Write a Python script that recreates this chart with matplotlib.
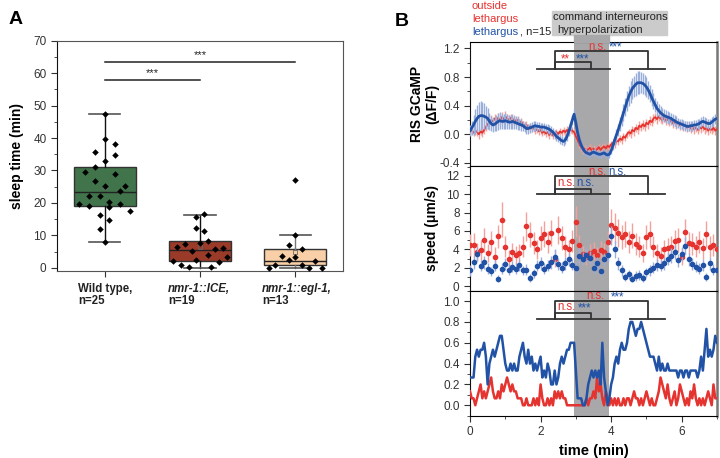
import numpy as np
import matplotlib
matplotlib.use("Agg")
import matplotlib.pyplot as plt
from matplotlib.patches import Rectangle
from matplotlib.ticker import MultipleLocator

# ---------------- Panel A data ----------------
groups = ["Wild type", "nmr-1::ICE", "nmr-1::egl-1"]
group_n = ["n=25", "n=19", "n=13"]
box_q1 = [19.0, 2.0, 1.0]
box_med = [23.5, 5.6, 2.2]
box_q3 = [31.0, 8.3, 5.7]
box_lo = [8.0, 0.0, 0.0]
box_hi = [47.5, 16.3, 10.0]
box_mean = [25.0, 6.3, 4.75]
box_colors = ["#41744a", "#9a3a29", "#f8cfa6"]

wt_vals = [47.5, 39.7, 38.1, 35.6, 34.7, 32.9, 31.1, 29.6, 29.0, 26.9, 25.2, 25.1, 23.6,
           22.0, 22.1, 20.4, 19.7, 19.0, 18.6, 19.7, 17.6, 16.2, 14.7, 12.0, 7.9]
wt_off = [0.0, 0.0, 0.11, -0.1, 0.11, 0.0, -0.1, -0.21, 0.11, -0.1, 0.0, 0.21, 0.16,
          -0.16, -0.05, 0.05, -0.27, -0.16, 0.05, 0.16, 0.27, -0.05, 0.05, -0.05, 0.0]
ice_vals = [16.5, 15.7, 12.3, 11.3, 8.3, 7.7, 7.2, 6.5, 6.1, 5.9, 5.3, 4.0, 3.2, 2.5,
            2.1, 1.7, 1.0, 0.1, 0.1]
ice_off = [0.04, -0.04, -0.04, 0.04, 0.08, 0.0, -0.16, -0.24, 0.24, 0.16, -0.08, 0.08,
           0.28, -0.04, -0.28, 0.2, -0.2, -0.12, 0.12]
egl_vals = [27.1, 10.0, 7.1, 5.8, 3.6, 3.4, 2.3, 2.1, 0.9, 1.0, 0.0, 0.0, 0.0]
egl_off = [0.0, 0.0, -0.07, 0.07, -0.14, 0.0, -0.07, 0.21, -0.21, 0.07, -0.28, 0.14, 0.28]

# ---------------- Panel B data ----------------
# RIS GCaMP (dF/F), sampled every 0.05 min from 0 to 7 min
gcamp_blue = [
    0.05, 0.09, 0.13, 0.18, 0.22, 0.25, 0.26, 0.26, 0.25, 0.24,
    0.22, 0.18, 0.15, 0.13, 0.14, 0.16, 0.18, 0.19, 0.18, 0.18,
    0.19, 0.18, 0.17, 0.17, 0.18, 0.17, 0.16, 0.15, 0.14, 0.13,
    0.12, 0.10, 0.08, 0.08, 0.09, 0.10, 0.11, 0.12, 0.11, 0.11,
    0.10, 0.10, 0.10, 0.09, 0.08, 0.07, 0.05, 0.03, 0.00, -0.03,
    -0.05, -0.07, -0.09, -0.10, -0.08, -0.03, 0.04, 0.12, 0.20, 0.28,
    0.16, 0.02, -0.08, -0.15, -0.20, -0.24, -0.26, -0.27, -0.28, -0.26,
    -0.25, -0.26, -0.27, -0.28, -0.28, -0.27, -0.26, -0.28, -0.29, -0.28,
    -0.23, -0.16, -0.08, -0.01, 0.06, 0.14, 0.22, 0.30, 0.38, 0.46,
    0.53, 0.59, 0.64, 0.67, 0.70, 0.72, 0.72, 0.72, 0.71, 0.69,
    0.66, 0.62, 0.57, 0.51, 0.46, 0.41, 0.36, 0.33, 0.30, 0.28,
    0.26, 0.25, 0.24, 0.23, 0.22, 0.20, 0.19, 0.17, 0.16, 0.15,
    0.14, 0.13, 0.12, 0.11, 0.11, 0.12, 0.12, 0.13, 0.13, 0.14,
    0.15, 0.17, 0.18, 0.17, 0.16, 0.15, 0.15, 0.17, 0.19, 0.21,
    0.22]
gcamp_blue_err = [
    0.08, 0.10, 0.14, 0.17, 0.19, 0.20, 0.20, 0.19, 0.18, 0.16,
    0.14, 0.12, 0.11, 0.10, 0.10, 0.11, 0.12, 0.12, 0.11, 0.11,
    0.11, 0.10, 0.10, 0.10, 0.10, 0.09, 0.09, 0.09, 0.08, 0.08,
    0.07, 0.07, 0.07, 0.07, 0.07, 0.07, 0.07, 0.07, 0.06, 0.06,
    0.06, 0.06, 0.06, 0.06, 0.06, 0.06, 0.06, 0.06, 0.06, 0.06,
    0.06, 0.06, 0.06, 0.06, 0.06, 0.06, 0.06, 0.06, 0.07, 0.07,
    0.06, 0.06, 0.05, 0.05, 0.05, 0.05, 0.05, 0.05, 0.05, 0.05,
    0.05, 0.05, 0.05, 0.05, 0.05, 0.05, 0.05, 0.05, 0.05, 0.05,
    0.05, 0.06, 0.07, 0.08, 0.09, 0.10, 0.11, 0.12, 0.13, 0.14,
    0.14, 0.15, 0.15, 0.15, 0.16, 0.16, 0.16, 0.15, 0.15, 0.14,
    0.14, 0.13, 0.12, 0.12, 0.11, 0.10, 0.10, 0.09, 0.09, 0.09,
    0.09, 0.09, 0.08, 0.08, 0.08, 0.08, 0.08, 0.08, 0.07, 0.07,
    0.07, 0.07, 0.07, 0.07, 0.07, 0.07, 0.07, 0.07, 0.07, 0.07,
    0.07, 0.07, 0.07, 0.07, 0.07, 0.07, 0.07, 0.07, 0.07, 0.07,
    0.07]
gcamp_red = [
    0.04, 0.06, 0.02, 0.05, 0.03, 0.00, 0.04, 0.02, 0.06, 0.10,
    0.14, 0.17, 0.20, 0.18, 0.22, 0.20, 0.23, 0.19, 0.24, 0.21,
    0.25, 0.22, 0.20, 0.23, 0.19, 0.21, 0.18, 0.20, 0.16, 0.18,
    0.14, 0.12, 0.13, 0.10, 0.11, 0.08, 0.09, 0.05, 0.07, 0.04,
    0.06, 0.02, 0.04, 0.01, 0.03, -0.01, 0.02, -0.02, 0.01, 0.03,
    0.00, 0.04, 0.02, 0.05, 0.03, 0.06, 0.04, 0.07, 0.05, 0.03,
    -0.03, -0.08, -0.14, -0.18, -0.22, -0.20, -0.24, -0.21, -0.19, -0.23,
    -0.20, -0.24, -0.21, -0.18, -0.22, -0.19, -0.17, -0.20, -0.16, -0.18,
    -0.14, -0.12, -0.14, -0.09, -0.10, -0.06, -0.08, -0.03, -0.05, 0.00,
    0.03, 0.01, 0.06, 0.04, 0.09, 0.07, 0.12, 0.10, 0.14, 0.11,
    0.16, 0.14, 0.19, 0.17, 0.22, 0.24, 0.21, 0.25, 0.22, 0.20,
    0.23, 0.19, 0.21, 0.17, 0.19, 0.15, 0.17, 0.14, 0.16, 0.12,
    0.14, 0.11, 0.13, 0.09, 0.11, 0.08, 0.10, 0.07, 0.09, 0.06,
    0.10, 0.08, 0.11, 0.07, 0.09, 0.05, 0.08, 0.06, 0.09, 0.05,
    0.07]
gcamp_red_err = [
    0.05, 0.06, 0.05, 0.06, 0.05, 0.06, 0.05, 0.06, 0.06, 0.06,
    0.07, 0.06, 0.07, 0.06, 0.07, 0.06, 0.07, 0.06, 0.07, 0.06,
    0.07, 0.06, 0.07, 0.06, 0.06, 0.06, 0.06, 0.06, 0.06, 0.05,
    0.05, 0.05, 0.05, 0.05, 0.05, 0.05, 0.05, 0.05, 0.05, 0.05,
    0.05, 0.05, 0.05, 0.05, 0.05, 0.05, 0.05, 0.05, 0.05, 0.05,
    0.05, 0.05, 0.05, 0.05, 0.05, 0.05, 0.05, 0.05, 0.05, 0.05,
    0.05, 0.05, 0.05, 0.05, 0.05, 0.05, 0.05, 0.05, 0.05, 0.05,
    0.05, 0.05, 0.05, 0.05, 0.05, 0.05, 0.05, 0.05, 0.05, 0.05,
    0.05, 0.05, 0.05, 0.05, 0.05, 0.05, 0.05, 0.05, 0.05, 0.05,
    0.05, 0.06, 0.06, 0.06, 0.06, 0.06, 0.06, 0.06, 0.06, 0.06,
    0.06, 0.06, 0.06, 0.06, 0.06, 0.06, 0.06, 0.06, 0.06, 0.06,
    0.06, 0.06, 0.06, 0.06, 0.06, 0.06, 0.06, 0.06, 0.06, 0.06,
    0.06, 0.06, 0.06, 0.06, 0.06, 0.06, 0.06, 0.06, 0.06, 0.06,
    0.06, 0.06, 0.06, 0.06, 0.06, 0.06, 0.06, 0.06, 0.06, 0.06,
    0.06]

# speed (um/s), sampled every 0.1 min from 0 to 7 min
speed_red = [
    4.5, 4.5, 3.7, 3.9, 5.0, 3.6, 4.8, 3.2, 5.4, 7.2,
    4.3, 3.0, 3.7, 3.4, 3.6, 4.3, 6.5, 5.6, 4.7, 4.0,
    5.2, 5.7, 4.8, 5.8, 3.0, 6.1, 5.2, 4.3, 4.0, 4.9,
    7.0, 4.5, 3.5, 3.2, 3.6, 3.8, 3.4, 3.9, 3.7, 4.8,
    6.6, 6.3, 5.8, 5.3, 5.7, 4.8, 5.5, 4.6, 4.3, 3.6,
    5.3, 5.7, 4.3, 3.6, 3.3, 4.0, 4.1, 4.3, 4.9, 5.0,
    3.2, 5.9, 4.7, 4.6, 4.3, 4.8, 4.1, 5.7, 4.3, 4.5,
    4.0]
speed_red_err = [
    1.2, 1.3, 1.0, 1.1, 1.3, 1.0, 1.2, 1.0, 1.3, 1.9,
    1.1, 0.9, 1.0, 1.0, 1.0, 1.1, 1.6, 1.4, 1.2, 1.0,
    1.3, 1.4, 1.2, 1.4, 0.9, 1.5, 1.3, 1.1, 1.0, 1.2,
    1.7, 1.1, 0.9, 0.9, 1.0, 1.0, 0.9, 1.0, 1.0, 1.2,
    1.8, 1.6, 1.5, 1.3, 1.4, 1.2, 1.4, 1.2, 1.1, 1.0,
    1.3, 1.4, 1.1, 1.0, 0.9, 1.0, 1.1, 1.1, 1.2, 1.3,
    0.9, 1.4, 1.2, 1.2, 1.1, 1.2, 1.1, 1.4, 1.1, 1.2,
    1.0]
speed_blue = [
    1.7, 2.6, 3.5, 2.2, 2.6, 1.9, 1.6, 2.2, 0.8, 1.9,
    2.4, 1.8, 2.1, 1.9, 2.3, 1.7, 1.8, 0.9, 1.4, 2.2,
    2.5, 1.9, 2.2, 2.6, 3.2, 2.4, 2.0, 2.5, 2.9, 2.3,
    2.0, 3.3, 3.0, 3.4, 3.1, 2.0, 2.5, 1.6, 2.9, 3.4,
    5.5, 4.0, 2.5, 1.7, 1.0, 1.3, 0.8, 1.1, 1.2, 0.9,
    1.5, 1.7, 2.0, 2.3, 2.2, 2.5, 3.0, 3.3, 3.7, 2.8,
    3.5, 4.4, 2.9, 2.4, 2.1, 1.9, 2.3, 1.0, 2.5, 1.8,
    1.7]
speed_blue_err = [
    0.6, 0.7, 0.8, 0.6, 0.7, 0.6, 0.5, 0.6, 0.4, 0.6,
    0.7, 0.6, 0.6, 0.6, 0.7, 0.5, 0.6, 0.4, 0.5, 0.6,
    0.7, 0.6, 0.6, 0.7, 0.8, 0.7, 0.6, 0.7, 0.7, 0.6,
    0.6, 0.8, 0.7, 0.8, 0.7, 0.6, 0.7, 0.5, 0.7, 0.8,
    1.0, 0.9, 0.7, 0.6, 0.4, 0.5, 0.4, 0.5, 0.5, 0.4,
    0.5, 0.6, 0.6, 0.7, 0.6, 0.7, 0.7, 0.8, 0.8, 0.7,
    0.8, 0.9, 0.7, 0.7, 0.6, 0.6, 0.7, 0.4, 0.7, 0.6,
    0.6]

# sleep fraction: sleeping animals (out of n=15), every 0.05 min
sleep_n = 15
sleep_blue_count = [
    4, 4, 4, 7, 8, 7, 8, 8, 9, 7,
    3, 6, 7, 8, 7, 8, 9, 10, 10, 8,
    6, 5, 5, 6, 5, 6, 5, 5, 7, 8,
    9, 7, 6, 8, 6, 7, 5, 6, 5, 6,
    7, 4, 5, 4, 6, 5, 3, 3, 5, 3,
    4, 6, 7, 6, 7, 8, 8, 9, 9, 9,
    5, 1, 1, 1, 0, 0, 1, 3, 4, 5,
    4, 5, 4, 5, 3, 9, 4, 2, 0, 1,
    3, 4, 6, 7, 6, 8, 9, 8, 8, 9,
    11, 12, 12, 11, 10, 11, 11, 12, 11, 10,
    9, 8, 7, 7, 7, 6, 5, 7, 5, 6,
    5, 5, 6, 5, 5, 5, 5, 5, 4, 5,
    5, 4, 5, 5, 4, 5, 5, 5, 5, 4,
    5, 7, 5, 8, 11, 7, 8, 7, 8, 10,
    9]
sleep_red_count = [
    2, 1, 1, 0, 1, 2, 3, 1, 2, 1,
    2, 3, 4, 2, 1, 1, 2, 1, 3, 2,
    3, 4, 3, 2, 3, 2, 2, 1, 1, 1,
    0, 0, 1, 0, 0, 0, 1, 0, 1, 0,
    3, 1, 0, 0, 1, 0, 1, 0, 2, 1,
    2, 1, 2, 1, 1, 0, 0, 0, 0, 0,
    0, 0, 0, 0, 0, 0, 1, 0, 1, 1,
    2, 1, 4, 2, 3, 1, 0, 2, 1, 0,
    1, 0, 1, 0, 1, 0, 0, 1, 0, 1,
    1, 0, 1, 2, 1, 1, 0, 1, 0, 1,
    2, 1, 0, 1, 0, 0, 1, 2, 4, 3,
    2, 1, 3, 1, 0, 1, 2, 0, 1, 3,
    2, 1, 0, 1, 0, 2, 1, 3, 1, 0,
    1, 0, 1, 0, 1, 2, 1, 0, 3, 1,
    1]

stim_window = [2.95, 3.95]

RED = "#e53330"
RED_L = "#f3a19a"
BLUE = "#2152a6"
BLUE_L = "#9aaedc"
DARK = "#333333"

plt.rcParams['font.family'] = ['Liberation Sans', 'DejaVu Sans']

fig = plt.figure(figsize=(7.2, 4.58), dpi=100)

# ---------------- Panel A ----------------
axA = fig.add_axes([0.0792, 0.4083, 0.3972, 0.5028])
stats = []
for i in range(3):
    stats.append(dict(med=box_med[i], q1=box_q1[i], q3=box_q3[i], whislo=box_lo[i],
                      whishi=box_hi[i], mean=box_mean[i], fliers=[]))
pos = [1, 2, 3]
bp = axA.bxp(stats, positions=pos, widths=0.65, patch_artist=True, showmeans=True,
             showfliers=False,
             meanprops=dict(marker='s', markersize=3, markerfacecolor='none',
                            markeredgecolor='#666666', markeredgewidth=0.6),
             medianprops=dict(color='#222222', lw=1.0),
             whiskerprops=dict(color='#111111', lw=1.0),
             capprops=dict(color='#555555', lw=1.2),
             boxprops=dict(lw=1.0))
for i, patch in enumerate(bp['boxes']):
    patch.set_facecolor(box_colors[i])
    patch.set_edgecolor('#333333')
for cap in bp['caps']:
    xs = cap.get_xdata()
    c = np.mean(xs)
    cap.set_xdata([c - 0.165, c + 0.165])
bp['whiskers'][4].set_color('#777777')
bp['whiskers'][5].set_color('#777777')

for p, vals, offs in [(1, wt_vals, wt_off), (2, ice_vals, ice_off), (3, egl_vals, egl_off)]:
    axA.scatter(np.array(offs) + p, vals, s=11, color='black', zorder=5, marker='D',
                linewidths=0)

axA.set_xlim(0.5, 3.5)
axA.set_ylim(-1, 70)
axA.yaxis.set_major_locator(MultipleLocator(10))
axA.yaxis.set_minor_locator(MultipleLocator(5))
axA.set_xticks(pos)
axA.set_xticklabels(["", "", ""])
axA.tick_params(axis='both', which='major', direction='out', length=4, labelsize=8.5,
                colors='#333333')
axA.tick_params(axis='y', which='minor', direction='out', length=2.5, color='#333333')
for s in ['top', 'right', 'bottom']:
    axA.spines[s].set_color('#555555')
axA.spines['left'].set_color('#111111')
axA.set_ylabel("sleep time (min)", fontsize=10, fontweight='bold', labelpad=7)

# significance bars
axA.plot([1, 2], [58, 58], color='#222222', lw=1.1)
axA.text(1.5, 58.6, "***", ha='center', va='bottom', fontsize=8, color='#222222')
axA.plot([1, 3], [63.5, 63.5], color='#222222', lw=1.1)
axA.text(2.0, 64.1, "***", ha='center', va='bottom', fontsize=8, color='#222222')

label_x = [78, 168, 262]
for i in range(3):
    fx = label_x[i] / 720
    if i == 0:
        fig.text(fx, 1 - 289 / 458, groups[i] + ",", fontsize=8.3, fontweight='bold',
                 ha='left', va='center', color='#222222')
    else:
        fig.text(fx, 1 - 289 / 458, groups[i] + ",", fontsize=8.3, fontweight='bold',
                 style='italic', ha='left', va='center', color='#222222')
    fig.text(fx, 1 - 301 / 458, group_n[i], fontsize=8.3, fontweight='bold',
             ha='left', va='center', color='#222222')

fig.text(0.012, 1 - 20 / 458, "A", fontsize=14, fontweight='bold', va='center')

# ---------------- Panel B ----------------
axL = 470 / 720
axW = 247 / 720
ax1 = fig.add_axes([axL, 0.6382, axW, 0.2701])
ax2 = fig.add_axes([axL, 0.3653, axW, 0.2729])
ax3 = fig.add_axes([axL, 0.0924, axW, 0.2729])

t_g = np.linspace(0, 7, len(gcamp_blue))
t_s = np.linspace(0, 7, len(speed_red))
t_f = np.linspace(0, 7, len(sleep_blue_count))

for ax in (ax1, ax2, ax3):
    ax.axvspan(stim_window[0], stim_window[1], color='#a8a8aa', zorder=0, lw=0)
    ax.set_xlim(0, 7)
    ax.xaxis.set_major_locator(MultipleLocator(2))
    ax.xaxis.set_minor_locator(MultipleLocator(1))
    ax.tick_params(axis='both', which='major', direction='out', length=4, labelsize=8.5,
                   colors='#333333')
    ax.tick_params(axis='both', which='minor', direction='out', length=2.5, color='#333333')
    ax.spines['right'].set_color('#777777')
    ax.spines['right'].set_linewidth(1.8)
    ax.spines['left'].set_color('#111111')

# top: GCaMP
ax1.errorbar(t_g, gcamp_red, yerr=gcamp_red_err, fmt='none', ecolor=RED_L, elinewidth=1.0,
             zorder=2)
ax1.plot(t_g, gcamp_red, color=RED, lw=1.3, zorder=3)
ax1.errorbar(t_g, gcamp_blue, yerr=gcamp_blue_err, fmt='none', ecolor=BLUE_L, elinewidth=1.0,
             zorder=4)
ax1.plot(t_g, gcamp_blue, color=BLUE, lw=2.0, zorder=5)
ax1.set_ylim(-0.44, 1.29)
ax1.yaxis.set_minor_locator(MultipleLocator(0.2))
ax1.set_yticks([-0.4, 0.0, 0.4, 0.8, 1.2])
ax1.set_yticklabels(["-0.4", "0.0", "0.4", "0.8", "1.2"])
ax1.tick_params(axis='x', which='both', bottom=False, labelbottom=False)
ax1.set_ylabel("RIS GCaMP\n(ΔF/F)", fontsize=10, fontweight='bold', linespacing=1.1)

# middle: speed
ax2.errorbar(t_s, speed_red, yerr=speed_red_err, fmt='o', color=RED, ecolor=RED_L,
             elinewidth=1.0, markersize=3, zorder=3)
ax2.errorbar(t_s, speed_blue, yerr=speed_blue_err, fmt='o', color=BLUE, ecolor=BLUE_L,
             elinewidth=1.0, markersize=3, zorder=4)
ax2.set_ylim(-0.5, 13.1)
ax2.yaxis.set_major_locator(MultipleLocator(2))
ax2.yaxis.set_minor_locator(MultipleLocator(1))
ax2.tick_params(axis='x', which='both', bottom=False, labelbottom=False)
ax2.set_ylabel("speed (μm/s)", fontsize=10, fontweight='bold')

# bottom: sleep fraction
ax3.plot(t_f, np.array(sleep_red_count) / sleep_n, color=RED, lw=1.8, zorder=3)
ax3.plot(t_f, np.array(sleep_blue_count) / sleep_n, color=BLUE, lw=1.8, zorder=4)
ax3.set_ylim(-0.1, 1.1)
ax3.yaxis.set_minor_locator(MultipleLocator(0.1))
ax3.set_yticks([0.0, 0.2, 0.4, 0.6, 0.8, 1.0])
ax3.set_yticklabels(["0.0", "0.2", "0.4", "0.6", "0.8", "1.0"])
ax3.set_xticks([0, 2, 4, 6])
ax3.set_xlabel("time (min)", fontsize=10.5, fontweight='bold')

for ax in (ax1, ax2, ax3):
    ax.yaxis.set_label_coords(-0.125, 0.5)


def brackets(ax, base, inner, outer):
    kw = dict(color=DARK, lw=1.3, zorder=6, clip_on=False)
    ax.plot([1.9, 3.96], [base, base], **kw)
    ax.plot([4.53, 5.54], [base, base], **kw)
    ax.plot([2.4, 2.4, 3.44, 3.44], [base, inner, inner, base], **kw)
    ax.plot([2.4, 2.4, 5.04, 5.04], [base, outer, outer, base], **kw)


brackets(ax1, 0.91, 1.01, 1.16)
brackets(ax2, 10.0, 10.6, 12.0)
brackets(ax3, 0.83, 0.89, 1.0)

fs = 8.3
ax1.text(2.69, 1.05, "**", color=RED, fontsize=fs, ha='center', va='center', zorder=7)
ax1.text(3.19, 1.05, "***", color=BLUE, fontsize=fs, ha='center', va='center', zorder=7)
ax1.text(3.62, 1.22, "n.s.", color=RED, fontsize=fs, ha='center', va='center', zorder=7,
         clip_on=False)
ax1.text(4.12, 1.21, "***", color=BLUE, fontsize=fs, ha='center', va='center', zorder=7,
         clip_on=False)

ax2.text(2.72, 11.2, "n.s.", color=RED, fontsize=fs, ha='center', va='center', zorder=7)
ax2.text(3.27, 11.2, "n.s.", color=BLUE, fontsize=fs, ha='center', va='center', zorder=7)
ax2.text(3.6, 12.45, "n.s.", color=RED, fontsize=fs, ha='center', va='center', zorder=7,
         clip_on=False)
ax2.text(4.17, 12.45, "n.s.", color=BLUE, fontsize=fs, ha='center', va='center', zorder=7,
         clip_on=False)

ax3.text(2.73, 0.94, "n.s.", color=RED, fontsize=fs, ha='center', va='center', zorder=7)
ax3.text(3.26, 0.93, "***", color=BLUE, fontsize=fs, ha='center', va='center', zorder=7)
ax3.text(3.56, 1.05, "n.s.", color=RED, fontsize=fs, ha='center', va='center', zorder=7)
ax3.text(4.18, 1.04, "***", color=BLUE, fontsize=fs, ha='center', va='center', zorder=7)

# header annotations
fig.patches.append(Rectangle((552 / 720, 1 - 35 / 458), 115 / 720, 24 / 458,
                             transform=fig.transFigure, color='#cbcbcb', zorder=0))
fig.patches.append(Rectangle((574 / 720, 1 - 42 / 458), 35 / 720, 7 / 458,
                             transform=fig.transFigure, color='#a8a8aa', zorder=0))
hfs = 8
fig.text(610 / 720, 1 - 17 / 458, "command interneurons", fontsize=hfs, ha='center',
         va='center', color='#222222')
fig.text(557 / 720, 1 - 30 / 458, "hyperpolarization", fontsize=hfs, ha='left',
         va='center', color='#222222')
fig.text(472 / 720, 1 - 6 / 458, "outside", fontsize=hfs, color=RED, ha='left', va='center')
fig.text(472 / 720, 1 - 19 / 458, "lethargus", fontsize=hfs, color=RED, ha='left',
         va='center')
fig.text(472 / 720, 1 - 32 / 458, "lethargus", fontsize=hfs, color=BLUE, ha='left',
         va='center')
fig.text(520 / 720, 1 - 32 / 458, ", n=15", fontsize=hfs, color='#222222', ha='left',
         va='center')
fig.text(395 / 720, 1 - 21 / 458, "B", fontsize=14, fontweight='bold', va='center')

fig.savefig("out.png", dpi=100)
